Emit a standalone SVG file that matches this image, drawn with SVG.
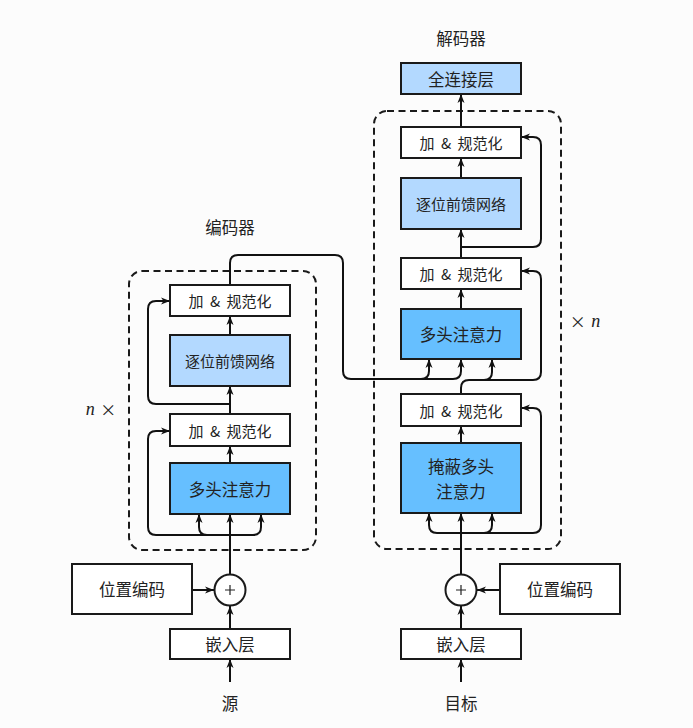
<svg xmlns="http://www.w3.org/2000/svg" width="693" height="728" viewBox="0 0 693 728">
<defs>
<marker id="ah" markerWidth="10" markerHeight="8" refX="9" refY="4" orient="auto" markerUnits="userSpaceOnUse">
<path d="M0,0.5 L9,4 L0,7.5 L2.5,4 Z" fill="#111"/>
</marker>
</defs>
<style>
.box{stroke:#1a1a1a;stroke-width:2;}
.w{fill:#ffffff;}
.dark{fill:#66bfff;}
.light{fill:#b3d9ff;}
.dash{fill:none;stroke:#1a1a1a;stroke-width:2;stroke-dasharray:7,4.5;}
.c{fill:none;stroke:#111;stroke-width:2;}
.a{fill:none;stroke:#111;stroke-width:2;marker-end:url(#ah);}
text{font-family:"Noto Sans CJK SC","Noto Sans",sans-serif;fill:#222;text-anchor:middle;dominant-baseline:central;}
.s15{font-size:15px;}
.an{font-size:15px;word-spacing:3px;}
.s16{font-size:16.5px;}
.it{font-family:"Liberation Serif",serif;font-style:italic;font-size:18px;}
</style>
<rect width="693" height="728" fill="#fcfcfc"/>

<g id="labels">
<text class="s16" x="230" y="227">编码器</text>
<text class="s16" x="461" y="38">解码器</text>
<text x="101" y="409" style="font-size:16px;word-spacing:2px;"><tspan class="it">n</tspan> ×</text>
<text x="585" y="321" style="font-size:16px;word-spacing:2px;">× <tspan class="it">n</tspan></text>
<text class="s16" x="230" y="703">源</text>
<text class="s16" x="461" y="703">目标</text>
</g>

<g id="encoder-frame"><rect class="dash" x="129" y="271" width="187" height="279" rx="13"/></g>
<g id="decoder-frame"><rect class="dash" x="374" y="111" width="187" height="438" rx="13"/></g>

<g id="connectors">
<!-- encoder -->
<path class="a" d="M230,574 V514"/>
<path class="c" d="M230,535 H156 Q148,535 148,527 V439 Q148,431 156,431 H161"/>
<path class="a" d="M156,431 H170"/>
<path class="a" d="M230,535 H207 Q199,535 199,527 V514"/>
<path class="a" d="M230,535 H253 Q261,535 261,527 V514"/>
<path class="a" d="M230,463 V446"/>
<path class="a" d="M230,414 V386"/>
<path class="c" d="M230,404 H156 Q148,404 148,396 V309 Q148,301 156,301 H161"/>
<path class="a" d="M156,301 H170"/>
<path class="a" d="M230,335 V316"/>
<path class="c" d="M230,285 V263 Q230,255 238,255 H335 Q343,255 343,263 V371 Q343,379 351,379 H453"/>
<path class="a" d="M415,379 H421 Q429,379 429,371 V359"/>
<path class="a" d="M445,379 H453 Q461,379 461,371 V359"/>
<!-- decoder -->
<path class="a" d="M461,574 V513"/>
<path class="a" d="M461,533 H437 Q429,533 429,525 V513"/>
<path class="a" d="M461,533 H484 Q492,533 492,525 V513"/>
<path class="c" d="M461,533 H533 Q541,533 541,525 V416 Q541,408 533,408 H530"/>
<path class="a" d="M533,408 H521"/>
<path class="a" d="M461,443 V426"/>
<path class="c" d="M461,394 V388 Q461,380 469,380 H533 Q541,380 541,372 V279 Q541,271 533,271 H530"/>
<path class="a" d="M533,271 H521"/>
<path class="a" d="M469,380 H484 Q492,380 492,372 V359"/>
<path class="a" d="M461,309 V289"/>
<path class="a" d="M461,258 V229"/>
<path class="c" d="M461,247 H533 Q541,247 541,239 V145 Q541,137 533,137 H530"/>
<path class="a" d="M533,137 H521"/>
<path class="a" d="M461,178 V158"/>
<path class="a" d="M461,127 V94"/>
<!-- bottom -->
<path class="a" d="M192,590 H214"/>
<path class="a" d="M230,629 V606"/>
<path class="a" d="M230,682 V659"/>
<path class="a" d="M500,590 H477"/>
<path class="a" d="M461,629 V606"/>
<path class="a" d="M461,682 V659"/>
</g>

<g id="enc-addnorm2"><rect class="box w" x="170" y="285" width="120" height="31"/><text class="an" x="230" y="300.5">加 &amp; 规范化</text></g>
<g id="enc-ffn"><rect class="box light" x="170" y="335" width="120" height="51"/><text class="s15" x="230" y="360.5">逐位前馈网络</text></g>
<g id="enc-addnorm1"><rect class="box w" x="170" y="414" width="120" height="32"/><text class="an" x="230" y="430">加 &amp; 规范化</text></g>
<g id="enc-mha"><rect class="box dark" x="170" y="463" width="120" height="51"/><text class="s16" x="230" y="488.5">多头注意力</text></g>

<g id="dec-fc"><rect class="box light" x="401" y="63" width="120" height="31"/><text class="s16" x="461" y="78.5">全连接层</text></g>
<g id="dec-addnorm3"><rect class="box w" x="401" y="127" width="120" height="31"/><text class="an" x="461" y="142.5">加 &amp; 规范化</text></g>
<g id="dec-ffn"><rect class="box light" x="401" y="178" width="120" height="51"/><text class="s15" x="461" y="203.5">逐位前馈网络</text></g>
<g id="dec-addnorm2"><rect class="box w" x="401" y="258" width="120" height="31"/><text class="an" x="461" y="273.5">加 &amp; 规范化</text></g>
<g id="dec-mha"><rect class="box dark" x="401" y="309" width="120" height="50"/><text class="s16" x="461" y="334">多头注意力</text></g>
<g id="dec-addnorm1"><rect class="box w" x="401" y="394" width="120" height="32"/><text class="an" x="461" y="410">加 &amp; 规范化</text></g>
<g id="dec-masked-mha"><rect class="box dark" x="401" y="443" width="120" height="70"/><text class="s16" x="461" y="466">掩蔽多头</text><text class="s16" x="461" y="491">注意力</text></g>

<g id="enc-posenc"><rect class="box w" x="72" y="564" width="120" height="50"/><text class="s16" x="132" y="589">位置编码</text></g>
<g id="enc-plus"><circle class="box w" cx="230" cy="590" r="15.5"/><path d="M225,590 H235 M230,585 V595" stroke="#222" stroke-width="1.2"/></g>
<g id="enc-embed"><rect class="box w" x="170" y="629" width="120" height="30"/><text class="s16" x="230" y="644">嵌入层</text></g>

<g id="dec-posenc"><rect class="box w" x="500" y="564" width="120" height="50"/><text class="s16" x="560" y="589">位置编码</text></g>
<g id="dec-plus"><circle class="box w" cx="461" cy="590" r="15.5"/><path d="M456,590 H466 M461,585 V595" stroke="#222" stroke-width="1.2"/></g>
<g id="dec-embed"><rect class="box w" x="401" y="629" width="120" height="30"/><text class="s16" x="461" y="644">嵌入层</text></g>
</svg>
